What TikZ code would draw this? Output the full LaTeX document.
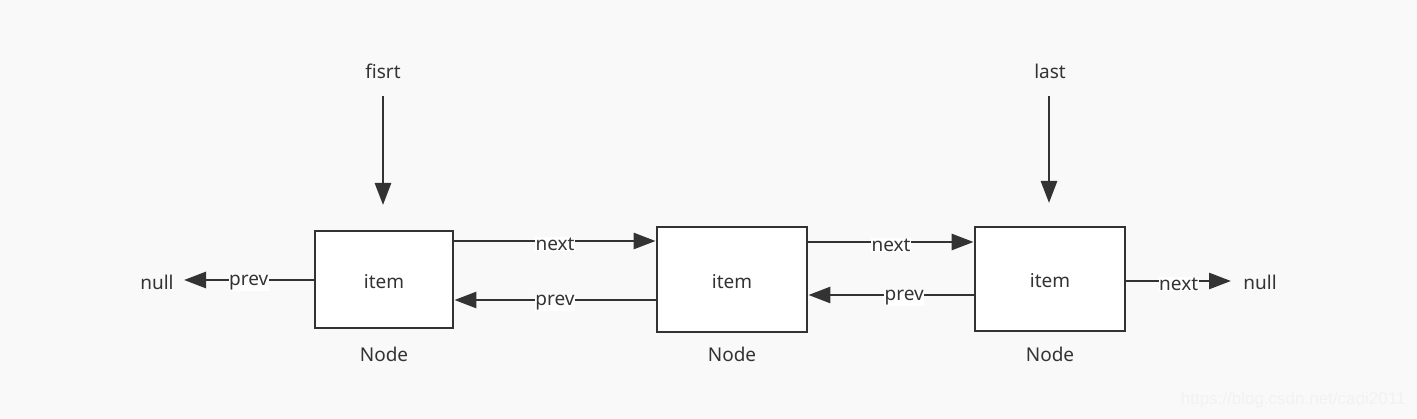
\documentclass[tikz,border=0pt]{standalone}
\usepackage{fontspec}
\setmainfont{Noto Sans}
\newfontfamily\wmfont{Liberation Sans}
\usetikzlibrary{arrows.meta}
\definecolor{ink}{HTML}{333333}
\definecolor{bg}{HTML}{F9F9F9}
\begin{document}
\begin{tikzpicture}[x=1pt,y=-1pt,
  box/.style={draw=ink,line width=2.8pt,fill=white,inner sep=0pt},
  conn/.style={draw=ink,line width=2.8pt,-{Triangle[length=22pt,width=16pt]}},
  lbl/.style={fill=white,inner sep=0.5pt,text=ink,yshift=-3pt,font=\fontsize{19}{21}\selectfont},
  txt/.style={text=ink,font=\fontsize{19}{21}\selectfont}]
\fill[bg] (0,0) rectangle (1417,419);
\useasboundingbox (0,0) rectangle (1417,419);
% boxes
\node[box,minimum width=138pt,minimum height=97pt] (n1) at (384,279.5) {};
\node[box,minimum width=150pt,minimum height=105pt] (n2) at (732,279.5) {};
\node[box,minimum width=150pt,minimum height=104pt] (n3) at (1050,279) {};
\node[txt,yshift=-2pt] at (n1) {item};
\node[txt,yshift=-2pt] at (n2) {item};
\node[txt,yshift=-2pt] at (n3) {item};
\node[txt] (c1) at (384,354) {Node};
\node[txt] (c2) at (732,354) {Node};
\node[txt] (c3) at (1050,354) {Node};
% pointers
\node[txt] (first) at (383,71) {fisrt};
\node[txt] (last) at (1050,71) {last};
\coordinate (f0) at (383,96);
\coordinate (f1) at (383,205);
\coordinate (l0) at (1049,96);
\coordinate (l1) at (1049,203);
\draw[conn] (f0) -- (f1);
\draw[conn] (l0) -- (l1);
% null ends
\node[txt] (nullL) at (157,282) {null};
\node[txt] (nullR) at (1260,282) {null};
\coordinate (pl) at (184,280);
\coordinate (nr) at (1231,281);
\draw[conn] (n1.west |- 0,280) -- node[lbl,pos=0.5] {prev} (pl);
\draw[conn] (n3.east |- 0,281) -- node[lbl,pos=0.5] {next} (nr);
% links
\draw[conn] (n1.east |- 0,241) -- node[lbl] {next} (n2.west |- 0,241);
\draw[conn] (n2.west |- 0,300) -- node[lbl] {prev} (n1.east |- 0,300);
\draw[conn] (n2.east |- 0,242) -- node[lbl,pos=0.5] {next} (n3.west |- 0,242);
\draw[conn] (n3.west |- 0,295) -- node[lbl,pos=0.42] {prev} (n2.east |- 0,295);
% watermark
\node[text=black!5,font=\wmfont\fontsize{17}{19}\selectfont,anchor=east] (wm) at (1409,400) {https://blog.csdn.net/cadi2011};
\end{tikzpicture}
\end{document}
